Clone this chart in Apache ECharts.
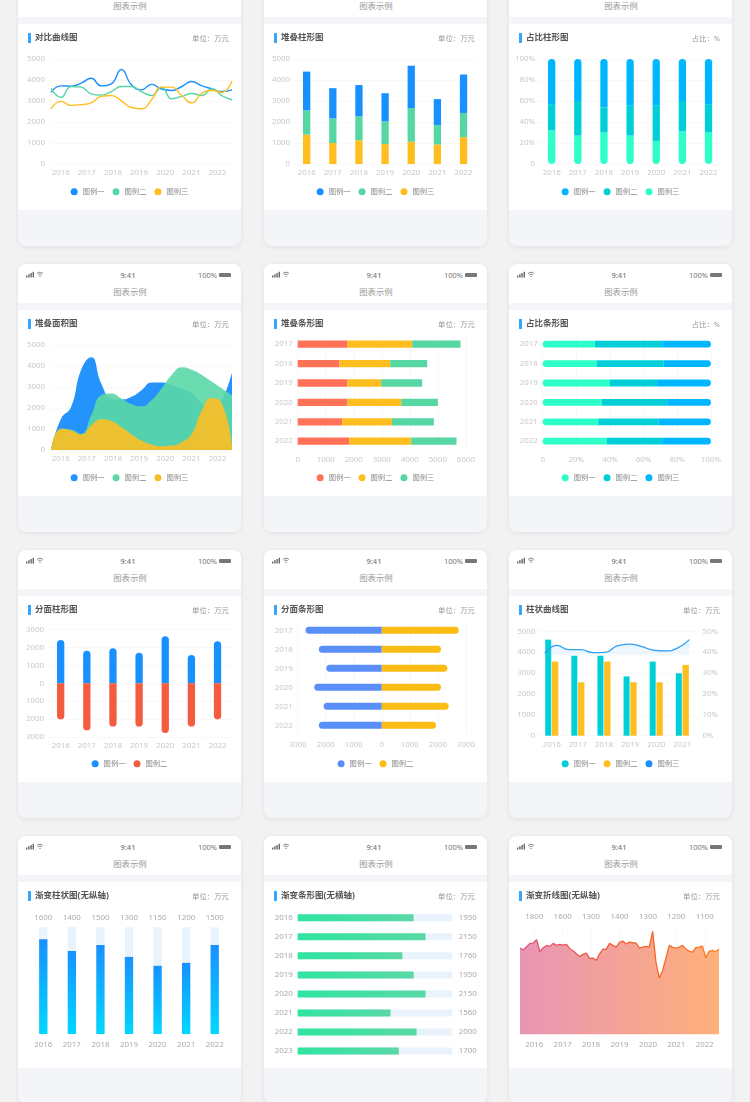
<!DOCTYPE html>
<html lang="zh">
<head>
    <meta charset="UTF-8">
    <script src="https://cdn.jsdelivr.net/npm/echarts@6/dist/echarts.min.js"></script>
    <style>
        html, body {margin: 0; padding: 0; width: 750px; height: 1102px; overflow: hidden; background: #f2f2f3;
            font-family: "Noto Sans", "Noto Sans CJK SC", sans-serif;}
        .card {position: absolute; width: 223px; height: 268px; background: #f4f5f9; border-radius: 8px;
            box-shadow: 0 1px 5px rgba(0, 0, 0, .08); overflow: hidden;}
        .head {position: absolute; left: 0; top: 0; width: 223px; height: 39px; background: #fff;}
        .panel {position: absolute; left: 0; top: 46px; width: 223px; height: 186px; background: #fff;}
        .time {position: absolute; left: 0; width: 220px; top: 6px; text-align: center; font-size: 7.5px; font-weight: 500; color: #777; line-height: 10px;}
        .pct {position: absolute; right: 24px; top: 6px; font-size: 7.5px; color: #777; line-height: 10px;}
        .bat {position: absolute; right: 10px; top: 9px; width: 12px; height: 4px; background: #777; border-radius: 1px;}
        .name {position: absolute; left: 0; width: 224px; top: 22px; text-align: center; font-size: 8.4px; color: #999; line-height: 12px;}
        .sig {position: absolute; left: 8px; top: 7px;}
    </style>
</head>
<body>
<script>
    var years = ['2016', '2017', '2018', '2019', '2020', '2021', '2022'];
    var yearsBar = ['2017', '2018', '2019', '2020', '2021', '2022'];
    var yearsCombo = ['2016', '2017', '2018', '2019', '2020', '2021'];
    var yearsGrad = ['2016', '2017', '2018', '2019', '2020', '2021', '2022', '2023'];

    // 对比曲线图
    var curveA = [3410, 3720, 3710, 3850, 4080, 3720, 3820, 4500, 3770, 3530, 3790, 3570, 3500, 3690, 3930, 3720, 3580, 3450, 3530];
    var curveB = [3600, 3180, 3690, 3660, 3340, 3280, 3450, 3690, 3690, 3450, 3260, 3660, 3100, 3220, 3360, 3260, 3580, 3250, 3060];
    var curveC = [2630, 2980, 2790, 2830, 2910, 3220, 3260, 3010, 2690, 2630, 3060, 3660, 3660, 3260, 2910, 3370, 3500, 3410, 3950];

    // 堆叠柱形图
    var stackA = [1840, 1440, 1490, 1340, 2020, 1240, 1830];
    var stackB = [1160, 1170, 1140, 1080, 1600, 920, 1150];
    var stackC = [1400, 1000, 1130, 950, 1060, 930, 1280];

    // 占比柱形图
    var shareA = [43, 40, 46, 44, 44, 40, 43];
    var shareB = [25, 33, 24, 29, 34, 29, 27];
    var shareC = [32, 27, 30, 27, 22, 31, 30];

    // 堆叠面积图
    var areaA = [0, 1490, 2050, 3820, 4420, 3170, 2450, 2400, 2530, 2850, 3220, 3220, 3090, 2930, 2690, 2210, 1810, 2370, 3690];
    var areaB = [0, 1010, 980, 770, 1650, 2610, 2690, 2450, 2180, 2080, 2370, 2930, 3570, 3940, 3820, 3570, 3250, 2930, 2610];
    var areaC = [0, 1010, 930, 740, 1170, 1460, 1380, 1090, 740, 450, 260, 180, 210, 370, 770, 1890, 2480, 2210, 210];

    // 堆叠条形图
    var hStackA = [1780, 1490, 1780, 1780, 1585, 1835];
    var hStackB = [2305, 1810, 1200, 1913, 1775, 2215];
    var hStackC = [1722, 1320, 1460, 1307, 1497, 1615];

    // 占比条形图
    var hShareA = [31, 32, 40, 35, 33, 38];
    var hShareB = [40, 40, 28, 39, 36, 33];
    var hShareC = [29, 28, 32, 26, 31, 29];

    // 分面柱形图
    var facetUp = [2420, 1825, 1955, 1710, 2625, 1585, 2345];
    var facetDown = [-2010, -2625, -2420, -2420, -2775, -2420, -2010];

    // 分面条形图
    var hFacetLeft = [-2720, -2245, -1980, -2410, -2075, -2245];
    var hFacetRight = [2745, 2110, 2340, 2110, 2385, 1935];

    // 柱状曲线图
    var comboA = [4600, 3830, 3830, 2840, 3550, 2990];
    var comboB = [3550, 2560, 3550, 2560, 2560, 3390];
    var comboLine = [39.6, 43.3, 41.2, 41.2, 39.8, 39.9, 43, 43.9, 42.8, 41, 40.6, 41.9, 46];

    // 渐变柱状图
    var gradBar = [1600, 1400, 1500, 1300, 1150, 1200, 1500];
    // 渐变条形图
    var gradHBar = [1950, 2150, 1760, 1950, 2150, 1560, 2000, 1700];
    // 渐变折线图
    var gradLineTop = ['1800', '1600', '1300', '1400', '1300', '1200', '1100'];
    var gradLine = [1447, 1413, 1469, 1525, 1531, 1587, 1385, 1452, 1491, 1475, 1525, 1491, 1508, 1497, 1508, 1435,
        1402, 1351, 1306, 1340, 1363, 1273, 1278, 1239, 1351, 1430, 1424, 1525, 1491, 1463, 1542, 1564, 1514, 1548,
        1536, 1531, 1447, 1463, 1475, 1463, 1727, 1206, 942, 1071, 1278, 1491, 1458, 1447, 1463, 1491, 1430, 1396,
        1379, 1452, 1463, 1480, 1284, 1391, 1407, 1385, 1430];

    var legendNames = ['图例一', '图例二', '图例三'];
    var BLUE = '#1890ff', GREEN = '#55d6a3', YELLOW = '#ffbe1f', RED = '#ff7257', AQUA = '#2dffc8', TEAL = '#00cfd8', SKY = '#00b7ff';
    var FONT = '"Noto Sans", "Noto Sans CJK SC", sans-serif';
    var LABEL = 7.9;
    var TICK = '#c8c8c8';

    function base(title, unit, legend, extra) {
        var opt = {
            animation: false,
            textStyle: {fontFamily: FONT},
            title: [
                {text: title, left: 17, top: 9.5, padding: 0, textStyle: {fontSize: 8.5, fontWeight: 'bold', color: '#555', fontFamily: FONT}},
                {text: unit, right: 12, top: 11, padding: 0, textStyle: {fontSize: 7.4, fontWeight: 'normal', color: '#999', fontFamily: FONT}}
            ],
            graphic: [{type: 'rect', left: 10, top: 9, shape: {width: 3, height: 10}, style: {fill: '#33a7ff'}}]
        };
        if (legend) {
            opt.legend = {data: legend, top: 164, left: 'center', padding: 0, icon: 'circle', itemWidth: 7, itemHeight: 7, itemGap: 8,
                textStyle: {fontSize: 7.3, color: '#888', fontFamily: FONT}};
        }
        for (var k in extra) opt[k] = extra[k];
        return opt;
    }

    function catAxis(data, o) {
        var a = {type: 'category', data: data, axisLine: {show: false}, axisTick: {show: false},
            axisLabel: {interval: 0, color: TICK, fontSize: LABEL, margin: 5}};
        for (var k in o) a[k] = o[k];
        return a;
    }

    function valAxis(min, max, step, fmt, o) {
        var a = {type: 'value', min: min, max: max, interval: step, axisLine: {show: false}, axisTick: {show: false},
            axisLabel: {color: TICK, fontSize: LABEL, margin: 3.5, formatter: fmt || plain},
            splitLine: {lineStyle: {color: '#f6f6f6', width: 0.8}}};
        for (var k in o) a[k] = o[k];
        return a;
    }

    function plain(v) {
        return String(v);
    }

    function pct(v) {
        return v === 0 ? '0' : v + '%';
    }

    function abs(v) {
        return String(Math.abs(v));
    }

    function bar(name, data, color, o) {
        var s = {name: name, type: 'bar', data: data, itemStyle: {color: color}};
        for (var k in o) s[k] = o[k];
        return s;
    }

    // 曲线和面积: 曲线一层, 年份标签一层
    function curveAxes() {
        return {
            grid: [
                {left: 33, width: 181, top: 35, height: 105},
                {left: 29.6, width: 183, top: 35, height: 105}
            ],
            xAxis: [
                {type: 'category', show: false, boundaryGap: false, gridIndex: 0},
                catAxis(years, {gridIndex: 1})
            ],
            yAxis: [
                valAxis(0, 5000, 1000, null, {gridIndex: 0, axisLabel: {color: TICK, fontSize: LABEL, margin: 6, formatter: plain}}),
                {type: 'value', show: false, gridIndex: 1, min: 0, max: 1}
            ]
        };
    }

    function curve(name, data, color) {
        return {name: name, type: 'line', smooth: true, showSymbol: false, data: data,
            itemStyle: {color: color}, lineStyle: {color: color, width: 1.4}};
    }

    function area(name, data, color, opacity) {
        return {name: name, type: 'line', smooth: true, showSymbol: false, data: data,
            itemStyle: {color: color}, lineStyle: {width: 0}, areaStyle: {color: color, opacity: opacity}};
    }

    var barGrid = {left: 29.6, width: 183, top: 35, height: 105};
    var hBarGrid = {left: 33.7, width: 168.2, top: 24.5, height: 116.4};
    var hFacetGrid = {left: 33.7, width: 168.2, top: 24.8, height: 114};

    var options = [
        base('对比曲线图', '单位：万元', legendNames, Object.assign(curveAxes(), {
            series: [curve('图例一', curveA, BLUE), curve('图例二', curveB, GREEN), curve('图例三', curveC, YELLOW)]
        })),
        base('堆叠柱形图', '单位：万元', legendNames, {
            grid: barGrid,
            xAxis: catAxis(years),
            yAxis: valAxis(0, 5000, 1000),
            series: [
                bar('图例三', stackC, YELLOW, {stack: 'a', barWidth: 7.3}),
                bar('图例二', stackB, GREEN, {stack: 'a'}),
                bar('图例一', stackA, BLUE, {stack: 'a'})
            ]
        }),
        base('占比柱形图', '占比：%', legendNames, {
            grid: barGrid,
            xAxis: catAxis(years),
            yAxis: valAxis(0, 100, 20, pct),
            series: [
                bar('图例三', shareC, AQUA, {stack: 'a', barWidth: 7.3, itemStyle: {color: AQUA, borderRadius: [0, 0, 4, 4]}}),
                bar('图例二', shareB, TEAL, {stack: 'a'}),
                bar('图例一', shareA, SKY, {stack: 'a', itemStyle: {color: SKY, borderRadius: [4, 4, 0, 0]}})
            ]
        }),
        base('堆叠面积图', '单位：万元', legendNames, Object.assign(curveAxes(), {
            series: [area('图例一', areaA, '#2493fb', 1), area('图例二', areaB, '#5ad8a6', 0.9), area('图例三', areaC, '#f4c02a', 0.95)]
        })),
        base('堆叠条形图', '单位：万元', legendNames, {
            grid: hBarGrid,
            yAxis: catAxis(yearsBar, {inverse: true}),
            xAxis: valAxis(0, 6000, 1000, null, {axisLabel: {color: TICK, fontSize: LABEL, margin: 5, formatter: plain}}),
            series: [
                bar('图例一', hStackA, RED, {stack: 'a', barWidth: 7.3}),
                bar('图例二', hStackB, YELLOW, {stack: 'a'}),
                bar('图例三', hStackC, GREEN, {stack: 'a'})
            ]
        }),
        base('占比条形图', '占比：%', legendNames, {
            grid: hBarGrid,
            yAxis: catAxis(yearsBar, {inverse: true}),
            xAxis: valAxis(0, 100, 20, pct, {axisLabel: {color: TICK, fontSize: LABEL, margin: 5, formatter: pct}}),
            series: [
                bar('图例一', hShareA, AQUA, {stack: 'a', barWidth: 6.8, itemStyle: {color: AQUA, borderRadius: [3.4, 0, 0, 3.4]}}),
                bar('图例二', hShareB, TEAL, {stack: 'a'}),
                bar('图例三', hShareC, SKY, {stack: 'a', itemStyle: {color: SKY, borderRadius: [0, 3.4, 3.4, 0]}})
            ]
        }),
        base('分面柱形图', '单位：万元', legendNames.slice(0, 2), {
            grid: {left: 29.6, width: 183, top: 33.6, height: 107.4},
            xAxis: catAxis(years),
            yAxis: valAxis(-3000, 3000, 1000, abs),
            series: [
                bar('图例一', facetUp, BLUE, {stack: 'a', barWidth: 7.3, itemStyle: {color: BLUE, borderRadius: [4, 4, 0, 0]}}),
                bar('图例二', facetDown, '#f55b3f', {stack: 'a', itemStyle: {color: '#f55b3f', borderRadius: [0, 0, 4, 4]}})
            ]
        }),
        base('分面条形图', '单位：万元', legendNames.slice(0, 2), {
            grid: hFacetGrid,
            yAxis: catAxis(yearsBar, {inverse: true}),
            xAxis: valAxis(-3000, 3000, 1000, abs, {axisLabel: {color: TICK, fontSize: LABEL, margin: 6, formatter: abs}}),
            series: [
                bar('图例一', hFacetLeft, '#5a8ffa', {stack: 'a', barWidth: 7, itemStyle: {color: '#5a8ffa', borderRadius: [3.5, 0, 0, 3.5]}}),
                bar('图例二', hFacetRight, '#fbbc13', {stack: 'a', itemStyle: {color: '#fbbc13', borderRadius: [0, 3.5, 3.5, 0]}})
            ]
        }),
        base('柱状曲线图', '单位：万元', legendNames, {
            grid: {left: 29.7, width: 156.7, top: 35.3, height: 104.4},
            xAxis: [
                catAxis(yearsCombo),
                {type: 'category', show: false, boundaryGap: true}
            ],
            yAxis: [
                valAxis(0, 5000, 1000),
                valAxis(0, 50, 10, function (v) { return v + '%'; }, {position: 'right', splitLine: {show: false},
                    axisLabel: {color: TICK, fontSize: LABEL, margin: 7, formatter: function (v) { return v + '%'; }}})
            ],
            series: [
                bar('图例一', comboA, TEAL, {barWidth: 6, barGap: '12%'}),
                bar('图例二', comboB, YELLOW, {}),
                {name: '图例三', type: 'line', smooth: true, showSymbol: false, data: comboLine, xAxisIndex: 1, yAxisIndex: 1,
                    itemStyle: {color: BLUE}, lineStyle: {color: '#2ea0f0', width: 1.3},
                    areaStyle: {color: new echarts.graphic.LinearGradient(0, 0, 0, 1, [
                        {offset: 0, color: 'rgba(46,160,240,.22)'},
                        {offset: 0.16, color: 'rgba(46,160,240,.08)'},
                        {offset: 0.17, color: 'rgba(46,160,240,0)'}
                    ])}}
            ]
        }),
        base('渐变柱状图(无纵轴)', '单位：万元', null, {
            grid: {left: 11, width: 200, top: 45.3, height: 106.7},
            xAxis: [
                catAxis(years, {axisLabel: {interval: 0, color: '#aaa', fontSize: LABEL, margin: 7}}),
                catAxis(gradBar, {position: 'top', axisLabel: {interval: 0, color: '#aaa', fontSize: LABEL, margin: 6}})
            ],
            yAxis: {type: 'value', show: false, min: 0, max: 1800},
            series: [{name: '渐变柱', type: 'bar', data: gradBar, barWidth: 8.3, showBackground: true,
                backgroundStyle: {color: '#e8f3fd'},
                itemStyle: {color: new echarts.graphic.LinearGradient(0, 0, 0, 1, [
                    {offset: 0, color: '#1890ff'}, {offset: 1, color: '#00d8ff'}
                ])}}]
        }),
        base('渐变条形图(无横轴)', '单位：万元', null, {
            grid: {left: 33.7, width: 154.6, top: 26.2, height: 152.4},
            xAxis: {type: 'value', show: false, min: 0, max: 2600},
            yAxis: [
                catAxis(yearsGrad, {inverse: true, axisLabel: {interval: 0, color: '#aaa', fontSize: LABEL, margin: 5}}),
                catAxis(gradHBar, {inverse: true, position: 'right', axisLabel: {interval: 0, color: '#aaa', fontSize: LABEL, margin: 6.5}})
            ],
            series: [{name: '渐变条', type: 'bar', data: gradHBar, barWidth: 7, showBackground: true,
                backgroundStyle: {color: '#e8f3fd'},
                itemStyle: {color: new echarts.graphic.LinearGradient(0, 0, 1, 0, [
                    {offset: 0, color: '#2ee5a0'}, {offset: 1, color: '#5ad8a6'}
                ])}}]
        }),
        base('渐变折线图(无纵轴)', '单位：万元', null, {
            grid: {left: 11, width: 199, top: 45, height: 107.3},
            xAxis: [
                catAxis(years, {axisLabel: {interval: 0, color: '#aaa', fontSize: LABEL, margin: 6.5},
                    axisTick: {show: true, alignWithLabel: true, inside: true, length: 107, lineStyle: {color: '#f5f5f5', width: 0.6}}}),
                catAxis(gradLineTop, {position: 'top', axisLabel: {interval: 0, color: '#aaa', fontSize: LABEL, margin: 6}}),
                {type: 'category', show: false, boundaryGap: false}
            ],
            yAxis: {type: 'value', show: false, min: 0, max: 1800},
            series: [{name: '渐变折线', type: 'line', data: gradLine, xAxisIndex: 2, showSymbol: false,
                lineStyle: {width: 1.3, color: new echarts.graphic.LinearGradient(0, 0, 1, 0, [
                    {offset: 0, color: '#e0507a'}, {offset: 0.6, color: '#f4602c'}, {offset: 1, color: '#ff7a20'}
                ])},
                itemStyle: {color: '#f4602c'},
                areaStyle: {opacity: 1, color: new echarts.graphic.LinearGradient(0, 0, 1, 0, [
                    {offset: 0, color: '#e895b5'}, {offset: 1, color: '#ffb07a'}
                ])}}]
        })
    ];

    var colLeft = [18, 264, 509];
    var rowTop = [-22, 264, 550, 836];
    var statusIcons = '<svg class="sig" width="20" height="7" viewBox="0 0 20 7">' +
        '<rect x="0" y="4.5" width="1.4" height="2" fill="#666"/><rect x="2.2" y="3.2" width="1.4" height="3.3" fill="#666"/>' +
        '<rect x="4.4" y="2" width="1.4" height="4.5" fill="#666"/><rect x="6.6" y="0.8" width="1.4" height="5.7" fill="#666"/>' +
        '<path d="M11 2.6 A4 4 0 0 1 17 2.6 M12.2 4 A2.3 2.3 0 0 1 15.8 4" fill="none" stroke="#666" stroke-width="0.8"/>' +
        '<path d="M13.2 5 L14 6.2 L14.8 5 Z" fill="#666"/></svg>';

    options.forEach(function (opt, i) {
        var card = document.createElement('div');
        card.className = 'card';
        card.style.left = colLeft[i % 3] + 'px';
        card.style.top = rowTop[Math.floor(i / 3)] + 'px';
        card.innerHTML = '<div class="head">' + statusIcons + '<div class="time">9:41</div><div class="pct">100%</div>' +
            '<div class="bat"></div><div class="name">图表示例</div></div><div class="panel"></div>';
        document.body.appendChild(card);
        var chart = echarts.init(card.querySelector('.panel'), null, {width: 223, height: 186});
        chart.setOption(opt);
    });
</script>
</body>
</html>
